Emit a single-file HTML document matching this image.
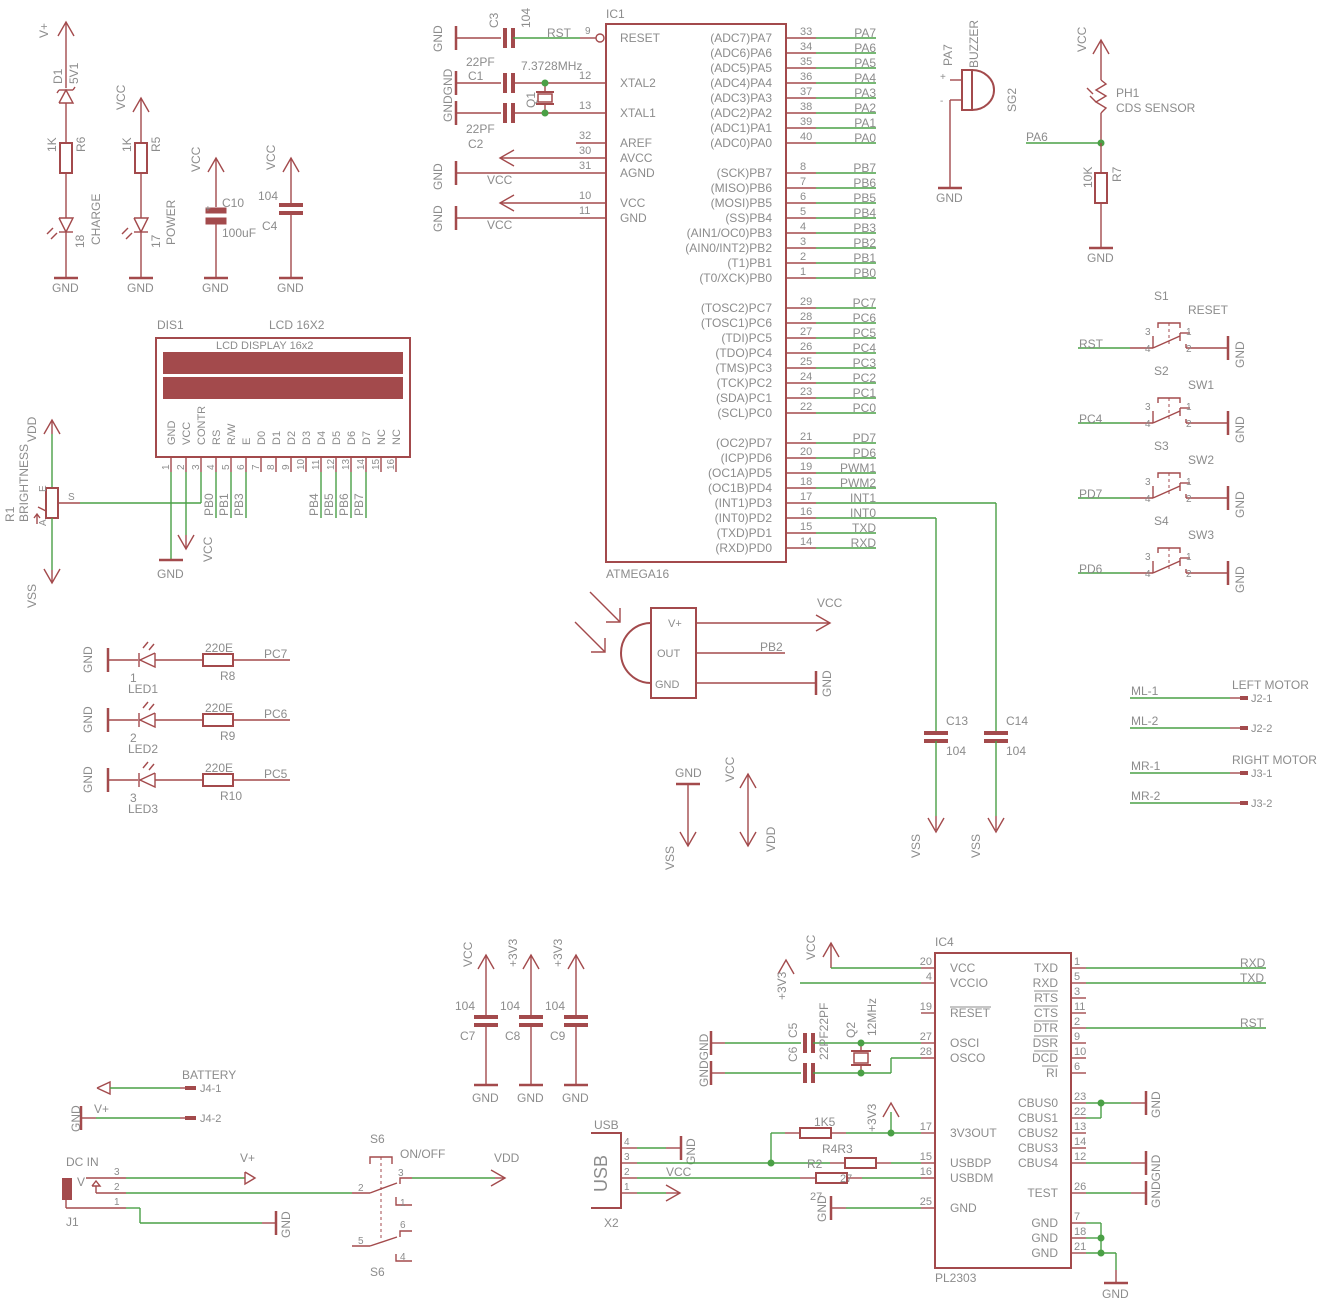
<!DOCTYPE html>
<html><head><meta charset="utf-8"><style>html,body{margin:0;padding:0;background:#fff}svg{display:block}text{font-family:"Liberation Sans",sans-serif;fill:#8c8c8c;font-size:12px}</style></head>
<body>
<svg id="s" width="1342" height="1304" viewBox="0 0 1342 1304" xmlns="http://www.w3.org/2000/svg"></svg>
<script>
var R='#a34a4c',G='#4aa046',o='';
function l(a,b,c,d,col,w){o+='<line x1="'+a+'" y1="'+b+'" x2="'+c+'" y2="'+d+'" stroke="'+(col||R)+'" stroke-width="'+(w||1.4)+'"/>';}
function g(a,b,c,d){l(a,b,c,d,G,1.4);}
function pl(p,col,w,f){o+='<polyline points="'+p+'" fill="'+(f||'none')+'" stroke="'+(col||R)+'" stroke-width="'+(w||1.4)+'"/>';}
function t(x,y,s,sz,an,rot,col){o+='<text x="'+x+'" y="'+y+'"'+(sz?' style="font-size:'+sz+'px"':'')+(an?' text-anchor="'+an+'"':'')+(rot?' transform="rotate(-90 '+x+' '+y+')"':'')+(col?' fill="'+col+'" style="fill:'+col+(sz?';font-size:'+sz+'px':'')+'"':'')+'>'+s+'</text>';}
function rc(x,y,w,h,f,sw){o+='<rect x="'+x+'" y="'+y+'" width="'+w+'" height="'+h+'" fill="'+(f||'none')+'" stroke="'+R+'" stroke-width="'+(sw||2)+'"/>';}
function dot(x,y){o+='<circle cx="'+x+'" cy="'+y+'" r="3.5" fill="'+G+'"/>';}
function gv(x,y){l(x,y-12,x,y+12,R,2.5);}
function gh(x,y){l(x-12,y,x+12,y,R,2.5);}
function au(x,y){pl((x-8)+','+(y+14)+' '+x+','+y+' '+(x+8)+','+(y+14));}
function ad(x,y){pl((x-8)+','+(y-14)+' '+x+','+y+' '+(x+8)+','+(y-14));}
function ar(x,y){pl((x-14)+','+(y-8)+' '+x+','+y+' '+(x-14)+','+(y+8));}
function al(x,y){pl((x+14)+','+(y-8)+' '+x+','+y+' '+(x+14)+','+(y+8));}
function capV(x,y){l(x-12,y-4,x+12,y-4,R,4);l(x-12,y+4,x+12,y+4,R,4);}
function capH(x,y){l(x-4,y-10,x-4,y+10,R,4);l(x+4,y-10,x+4,y+10,R,4);}
au(66,22);t(48,38,'V+',12,null,1);l(66,22,66,88);
pl('59,103 73,103 66,90 59,103');l(59,90,73,90);l(59,90,57,93);l(73,90,75,87);
t(62,84,'D1',12,null,1);t(78,84,'5V1',12,null,1);
l(66,103,66,143);rc(60,143,12,30);l(66,173,66,218);t(56,152,'1K',12,null,1);t(85,152,'R6',12,null,1);
pl('59,218 73,218 66,232 59,218');l(59,232,73,232);l(66,232,66,278);gh(66,278);t(52,292,'GND');
pl('53,228 47,234');pl('57,233 51,239');t(84,248,'18',12,null,1);t(100,245,'CHARGE',12,null,1);
au(141,98);t(125,110,'VCC',12,null,1);l(141,98,141,143);rc(135,143,12,30);l(141,173,141,218);
t(131,152,'1K',12,null,1);t(160,152,'R5',12,null,1);
pl('134,218 148,218 141,232 134,218');l(134,232,148,232);l(141,232,141,278);gh(141,278);t(127,292,'GND');
pl('128,228 122,234');pl('132,233 126,239');t(160,248,'17',12,null,1);t(175,245,'POWER',12,null,1);
au(216,158);t(200,172,'VCC',12,null,1);l(216,158,216,207);rc(206,208,20,5,R,1);rc(206,218,20,6,R,1);l(216,224,216,278);gh(216,278);t(202,292,'GND');
t(205,212,'+',10);t(222,207,'C10');t(222,237,'100uF');
au(291,158);t(275,170,'VCC',12,null,1);l(291,158,291,205);capV(291,209);l(291,213,291,278);gh(291,278);t(277,292,'GND');
t(258,200,'104');t(262,230,'C4');
t(157,329,'DIS1');t(269,329,'LCD 16X2');
rc(156,338,254,119);o+='<rect x="163" y="352" width="240" height="22" fill="'+R+'"/><rect x="163" y="377" width="240" height="22" fill="'+R+'"/>';
t(216,349,'LCD DISPLAY 16x2',11,null,null,R);
var ln=['GND','VCC','CONTR','RS','R/W','E','D0','D1','D2','D3','D4','D5','D6','D7','NC','NC'];
for(var i=0;i<16;i++){var x=171+15*i;l(x,457,x,472);t(x+4,445,ln[i],11,null,1);t(x-2,470,''+(i+1),10,null,1);}
au(52,420);ad(52,583);g(52,434,52,488);rc(46,488,12,30);g(52,518,52,570);l(52,420,52,434);l(52,570,52,583);
pl('38,507 46,511');pl('58,503 80,503');g(80,503,201,503);g(201,472,201,503);
t(36,442,'VDD',12,null,1);t(28,522,'BRIGHTNESS',12,null,1);t(14,522,'R1',12,null,1);t(46,492,'E',10,null,1);t(46,526,'A',10,null,1);t(68,500,'S',10);
t(36,608,'VSS',12,null,1);pl('37,524 37,514');pl('34,518 37,514 40,518');
g(171,472,171,560);gh(171,560);t(157,578,'GND');
g(186,472,186,535);ad(186,549);l(186,535,186,549);t(212,562,'VCC',12,null,1);
var pb=[[216,'PB0'],[231,'PB1'],[246,'PB3'],[321,'PB4'],[336,'PB5'],[351,'PB6'],[366,'PB7']];
pb.forEach(function(p){g(p[0],472,p[0],518);t(p[0]-3,516,p[1],12,null,1);});
t(606,18,'IC1');rc(606,24,180,538);t(606,578,'ATMEGA16');
l(580,38,596,38);o+='<circle cx="600" cy="38" r="4" fill="none" stroke="'+R+'" stroke-width="1.4"/>';t(585,34,'9',10);t(620,42,'RESET');
var lp=[[83,'12','XTAL2'],[113,'13','XTAL1'],[143,'32','AREF'],[158,'30','AVCC'],[173,'31','AGND'],[203,'10','VCC'],[218,'11','GND']];
lp.forEach(function(p){l(576,p[0],606,p[0]);t(579,p[0]-4,p[1],11);t(620,p[0]+4,p[2]);});
var rp=[['33','(ADC7)PA7','PA7'],['34','(ADC6)PA6','PA6'],['35','(ADC5)PA5','PA5'],['36','(ADC4)PA4','PA4'],['37','(ADC3)PA3','PA3'],['38','(ADC2)PA2','PA2'],['39','(ADC1)PA1','PA1'],['40','(ADC0)PA0','PA0'],null,
['8','(SCK)PB7','PB7'],['7','(MISO)PB6','PB6'],['6','(MOSI)PB5','PB5'],['5','(SS)PB4','PB4'],['4','(AIN1/OC0)PB3','PB3'],['3','(AIN0/INT2)PB2','PB2'],['2','(T1)PB1','PB1'],['1','(T0/XCK)PB0','PB0'],null,
['29','(TOSC2)PC7','PC7'],['28','(TOSC1)PC6','PC6'],['27','(TDI)PC5','PC5'],['26','(TDO)PC4','PC4'],['25','(TMS)PC3','PC3'],['24','(TCK)PC2','PC2'],['23','(SDA)PC1','PC1'],['22','(SCL)PC0','PC0'],null,
['21','(OC2)PD7','PD7'],['20','(ICP)PD6','PD6'],['19','(OC1A)PD5','PWM1'],['18','(OC1B)PD4','PWM2'],['17','(INT1)PD3','INT1'],['16','(INT0)PD2','INT0'],['15','(TXD)PD1','TXD'],['14','(RXD)PD0','RXD']];
rp.forEach(function(p,i){if(!p)return;var y=38+15*i;l(786,y,816,y);g(816,y,876,y);t(800,y-3,p[0],11);t(772,y+4,p[1],12,'end');t(876,y-1,p[2],12,'end');});
gv(456,38);l(456,38,501,38);capH(509,38);g(513,38,580,38);t(547,37,'RST',12);t(498,28,'C3',12,null,1);t(530,28,'104',12,null,1);t(442,52,'GND',12,null,1);
gv(456,83);gv(456,113);t(452,122,'GNDGND',12,null,1);
l(456,83,501,83);capH(509,83);l(513,83,576,83);l(456,113,501,113);capH(509,113);l(513,113,576,113);
t(466,66,'22PF');t(468,80,'C1');t(466,133,'22PF');t(468,148,'C2');t(521,70,'7.3728MHz');
l(545,83,545,92);l(545,104,545,113);rc(538,94,14,8,'none',1.5);l(536,92,554,92,R,2);l(536,104,554,104,R,2);dot(545,83);dot(545,113);t(535,108,'Q1',12,null,1);
al(500,158);l(500,158,576,158);
gv(456,173);l(456,173,576,173);t(442,190,'GND',12,null,1);t(487,184,'VCC');
al(500,203);l(500,203,576,203);
gv(456,218);l(456,218,576,218);t(442,232,'GND',12,null,1);t(487,229,'VCC');
t(952,66,'PA7',12,null,1);t(940,80,'+',10);t(940,104,'-',10);t(978,68,'BUZZER',12,null,1);t(1016,112,'SG2',12,null,1);
l(950,80,962,80);l(950,100,962,100);l(950,100,950,188);gh(950,188);t(936,202,'GND');
rc(962,70,10,40,'none',2);o+='<path d="M972,70 A22,20 0 0 1 972,110" fill="none" stroke="'+R+'" stroke-width="2"/>';
au(1101,40);t(1086,52,'VCC',12,null,1);l(1101,40,1101,80);
pl('1101,80 1106,84 1096,90 1106,96 1096,102 1106,108 1101,113');l(1101,113,1101,143);
pl('1087,88 1093,94');pl('1090,96 1096,102');t(1116,97,'PH1');t(1116,112,'CDS SENSOR');
g(1026,143,1101,143);dot(1101,143);t(1026,141,'PA6');
l(1101,143,1101,173);rc(1095,173,12,30);l(1101,203,1101,248);gh(1101,248);t(1087,262,'GND');t(1092,188,'10K',12,null,1);t(1121,182,'R7',12,null,1);
var sw=[[348,'RST','S1','RESET'],[423,'PC4','S2','SW1'],[498,'PD7','S3','SW2'],[573,'PD6','S4','SW3']];
sw.forEach(function(s){var y=s[0];g(1078,y,1130,y);t(1079,y,s[1]);l(1130,y,1153,y);l(1153,y-12,1153,y);l(1153,y,1180,y-12);
l(1180,y-15,1180,y-7);l(1180,y-15,1190,y-15);l(1186,y,1228,y);l(1186,y-4,1186,y);gv(1228,y);t(1244,y+20,'GND',12,null,1);
pl((1158)+','+(y-20)+' 1158,'+(y-25)+' 1180,'+(y-25)+' 1180,'+(y-20));o+='<line x1="1169" y1="'+(y-25)+'" x2="1169" y2="'+(y-2)+'" stroke="'+R+'" stroke-dasharray="3,3"/>';
t(1145,y-13,'3',10);t(1145,y+4,'4',10);t(1186,y-13,'1',10);t(1186,y+4,'2',10);t(1154,y-48,s[2]);t(1188,y-34,s[3]);});
[[698,'ML-1','J2-1'],[728,'ML-2','J2-2'],[773,'MR-1','J3-1'],[803,'MR-2','J3-2']].forEach(function(m){g(1130,m[0],1230,m[0]);l(1230,m[0],1240,m[0]);l(1240,m[0],1248,m[0],R,4);t(1131,m[0]-3,m[1]);t(1251,m[0]+4,m[2],11);});
t(1232,689,'LEFT MOTOR');t(1232,764,'RIGHT MOTOR');
[[660,'PC7','R8','1','LED1'],[720,'PC6','R9','2','LED2'],[780,'PC5','R10','3','LED3']].forEach(function(d){var y=d[0];gv(108,y);t(92,y+13,'GND',12,null,1);
l(108,y,138,y);pl('155,'+(y-7)+' 155,'+(y+7)+' 140,'+y+' 155,'+(y-7));l(139,y-7,139,y+7);l(155,y,203,y);rc(203,y-6,30,12);l(233,y,290,y);
t(264,y-2,d[1]);t(205,y-8,'220E');t(220,y+20,d[2]);t(130,y+22,d[3]);t(128,y+33,d[4]);pl('143,'+(y-12)+' 148,'+(y-18));pl('149,'+(y-10)+' 154,'+(y-16));});
rc(651,608,45,90);t(668,627,'V+',11);t(657,657,'OUT',11);t(655,688,'GND',11);
o+='<path d="M651,623 A30,30 0 0 0 651,683" fill="none" stroke="'+R+'" stroke-width="2"/>';
l(696,623,830,623);ar(830,623);t(817,607,'VCC');l(696,653,785,653);t(760,651,'PB2');l(696,683,816,683);gv(816,683);t(831,697,'GND',12,null,1);
pl('590,592 620,622');pl('606,622 620,622 620,608');pl('575,622 605,652');pl('591,652 605,652 605,638');
g(876,518,936,518);g(936,518,936,733);capV(936,737);g(936,741,936,816);l(936,816,936,830);ad(936,832);t(946,725,'C13');t(946,755,'104');t(920,858,'VSS',12,null,1);
g(876,503,996,503);g(996,503,996,733);capV(996,737);g(996,741,996,816);l(996,816,996,830);ad(996,832);t(1006,725,'C14');t(1006,755,'104');t(980,858,'VSS',12,null,1);
t(675,777,'GND');gh(688,784);l(688,784,688,846);ad(688,846);t(674,870,'VSS',12,null,1);
au(748,774);l(748,774,748,846);ad(748,846);t(734,782,'VCC',12,null,1);t(775,852,'VDD',12,null,1);
[[486,'VCC','C7'],[531,'+3V3','C8'],[576,'+3V3','C9']].forEach(function(c){var x=c[0];au(x,955);t(x-14,967,c[1],12,null,1);l(x,955,x,1017);capV(x,1021);l(x,1025,x,1085);gh(x,1085);t(x-14,1102,'GND');t(x-31,1010,'104');t(x-26,1040,c[2]);});
t(182,1079,'BATTERY');pl('97,1088 110,1082 110,1094 97,1088');g(110,1088,180,1088);l(180,1088,185,1088);l(185,1088,196,1088,R,4);t(200,1092,'J4-1',11);
gv(81,1118);t(80,1132,'GND',12,null,1);l(81,1118,96,1118);g(96,1118,180,1118);l(180,1118,185,1118);l(185,1118,196,1118,R,4);t(94,1113,'V+');t(200,1122,'J4-2',11);
t(66,1166,'DC IN');o+='<rect x="62" y="1178" width="10" height="22" fill="'+R+'"/>';t(66,1226,'J1');t(77,1186,'V',12);
l(86,1178,126,1178);g(126,1178,245,1178);pl('245,1172 255,1178 245,1184 245,1172');t(240,1162,'V+');t(114,1175,'3',10);
pl('92,1186 96,1181 100,1186 92,1186');l(96,1186,96,1193);l(96,1193,126,1193);g(126,1193,352,1193);t(114,1190,'2',10);
l(66,1200,66,1208);l(66,1208,126,1208);g(126,1208,140,1208);g(140,1208,140,1223);g(140,1223,262,1223);l(262,1223,276,1223);gv(276,1223);t(290,1238,'GND',12,null,1);t(114,1205,'1',10);
t(370,1143,'S6');t(400,1158,'ON/OFF');pl('370,1164 370,1157 392,1157 392,1164');o+='<line x1="381" y1="1157" x2="381" y2="1240" stroke="'+R+'" stroke-dasharray="3,3"/>';
l(352,1193,370,1193);l(370,1193,397,1183);pl('400,1184 400,1178 412,1178');g(412,1178,495,1178);ar(505,1178);l(495,1178,505,1178);t(494,1162,'VDD');t(398,1176,'3',10);t(358,1191,'2',10);
pl('396,1197 396,1205 412,1205');t(400,1206,'1',10);
pl('400,1237 400,1231 412,1231');t(400,1228,'6',10);l(352,1246,370,1246);l(370,1246,397,1237);t(358,1244,'5',10);
pl('396,1254 396,1261 412,1261');t(400,1260,'4',10);t(370,1276,'S6');
t(594,1129,'USB');pl('591,1133 621,1133 621,1208 591,1208',R,2);t(607,1192,'USB',18,null,1,R);t(604,1227,'X2');
[[1148,'4'],[1163,'3'],[1178,'2'],[1193,'1']].forEach(function(p){l(621,p[0],637,p[0]);t(624,p[0]-3,p[1],10);});
g(637,1148,666,1148);l(666,1148,681,1148);gv(681,1148);t(695,1165,'GND',12,null,1);
g(637,1163,771,1163);dot(771,1163);g(771,1163,830,1163);l(830,1163,845,1163);rc(845,1158,31,10);l(876,1163,891,1163);g(891,1163,921,1163);t(822,1153,'R4R3');
g(771,1163,771,1133);g(771,1133,785,1133);l(785,1133,800,1133);rc(800,1128,31,10);l(831,1133,846,1133);g(846,1133,921,1133);dot(891,1133);g(891,1133,891,1112);au(891,1103);t(814,1126,'1K5');t(876,1132,'+3V3',12,null,1);
g(637,1178,800,1178);l(800,1178,816,1178);rc(816,1173,31,10);l(847,1178,862,1178);g(862,1178,921,1178);t(666,1176,'VCC');t(807,1168,'R2');t(840,1182,'27',11);t(810,1200,'27',11);
g(637,1193,666,1193);l(666,1193,680,1193);ar(680,1193);
gv(831,1208);l(831,1208,846,1208);g(846,1208,921,1208);t(826,1222,'GND',12,null,1);
gv(711,1043);gv(711,1073);t(708,1087,'GNDGND',12,null,1);
g(725,1043,801,1043);l(711,1043,725,1043);capH(809,1043);g(813,1043,921,1043);
g(725,1073,801,1073);l(711,1073,725,1073);capH(809,1073);g(813,1073,891,1073);g(891,1073,891,1058);g(891,1058,921,1058);
l(861,1043,861,1050);l(861,1066,861,1073);rc(854,1053,14,10,'none',1.5);l(851,1051,871,1051,R,2);l(851,1065,871,1065,R,2);dot(861,1043);dot(861,1073);
t(797,1038,'C5',12,null,1);t(797,1062,'C6',12,null,1);t(828,1060,'22PF22PF',12,null,1);t(855,1038,'Q2',12,null,1);t(876,1036,'12MHz',12,null,1);
t(935,946,'IC4');rc(935,953,136,315);t(935,1282,'PL2303');
var l4=[[968,'20','VCC'],[983,'4','VCCIO'],[1013,'19','RESET'],[1043,'27','OSCI'],[1058,'28','OSCO'],[1133,'17','3V3OUT'],[1163,'15','USBDP'],[1178,'16','USBDM'],[1208,'25','GND']];
l4.forEach(function(p){l(921,p[0],935,p[0]);t(932,p[0]-3,p[1],11,'end');t(950,p[0]+4,p[2],12);});
o+='<line x1="950" y1="1007" x2="991" y2="1007" stroke="#8c8c8c" stroke-width="1"/>';
var r4=[[968,'1','TXD'],[983,'5','RXD'],[998,'3','RTS'],[1013,'11','CTS'],[1028,'2','DTR'],[1043,'9','DSR'],[1058,'10','DCD'],[1073,'6','RI'],[1103,'23','CBUS0'],[1118,'22','CBUS1'],[1133,'13','CBUS2'],[1148,'14','CBUS3'],[1163,'12','CBUS4'],[1193,'26','TEST'],[1223,'7','GND'],[1238,'18','GND'],[1253,'21','GND']];
r4.forEach(function(p,i){l(1071,p[0],1086,p[0]);t(1074,p[0]-3,p[1],11);t(1058,p[0]+4,p[2],12,'end');if(i>=2&&i<=7){var w=p[2].length*8;o+='<line x1="'+(1058-w)+'" y1="'+(p[0]-7)+'" x2="1058" y2="'+(p[0]-7)+'" stroke="#8c8c8c" stroke-width="1"/>';}});
au(831,943);t(815,960,'VCC',12,null,1);l(831,943,831,968);g(831,968,921,968);
au(786,960);t(786,1000,'+3V3',12,null,1);g(800,983,921,983);
g(1086,968,1266,968);t(1240,967,'RXD');g(1086,983,1266,983);t(1240,982,'TXD');g(1086,1028,1266,1028);t(1240,1027,'RST');
g(1086,1103,1131,1103);g(1086,1118,1101,1118);g(1101,1103,1101,1118);dot(1101,1103);l(1131,1103,1146,1103);gv(1146,1103);t(1160,1118,'GND',12,null,1);
g(1086,1163,1131,1163);l(1131,1163,1146,1163);gv(1146,1163);g(1086,1193,1131,1193);l(1131,1193,1146,1193);gv(1146,1193);t(1160,1208,'GNDGND',12,null,1);
g(1086,1223,1101,1223);g(1101,1223,1101,1253);g(1086,1238,1101,1238);g(1086,1253,1116,1253);dot(1101,1238);dot(1101,1253);g(1116,1253,1116,1270);l(1116,1270,1116,1283);gh(1116,1283);t(1102,1298,'GND');
document.getElementById('s').innerHTML=o;
</script>
</body></html>
